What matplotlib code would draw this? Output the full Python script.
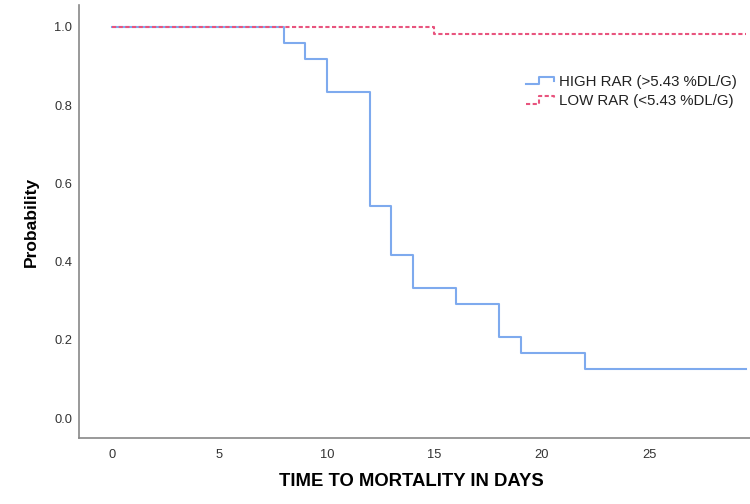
import matplotlib
matplotlib.use("Agg")
import matplotlib.pyplot as plt
from matplotlib.lines import Line2D
from matplotlib.legend_handler import HandlerBase

plt.rcParams['font.family'] = ['Liberation Sans', 'DejaVu Sans']

# Kaplan-Meier step data (event times in days, survival probability after event)
high_times = [0, 8, 9, 10, 12, 13, 14, 16, 18, 19, 22, 29.5]
high_surv = [1.0, 0.958, 0.917, 0.833, 0.542, 0.417, 0.333, 0.292, 0.208, 0.167, 0.125, 0.125]
low_times = [0, 15, 29.5]
low_surv = [1.0, 0.982, 0.982]

labels = ["HIGH RAR (>5.43 %DL/G)", "LOW RAR (<5.43 %DL/G)"]
x_ticks = [0, 5, 10, 15, 20, 25]
y_ticks = [0.0, 0.2, 0.4, 0.6, 0.8, 1.0]

blue = '#7eaaee'
pink = '#e8547e'


class StepHandler(HandlerBase):
    # draws a little step shape in the legend, like SPSS does
    def create_artists(self, legend, orig, xd, yd, width, height, fontsize, trans):
        xs = [xd, xd + width * 0.45, xd + width * 0.45, xd + width, xd + width]
        ys = [yd + height * 0.15, yd + height * 0.15, yd + height * 0.85,
              yd + height * 0.85, yd + height * 0.45]
        ln = Line2D(xs, ys, color=orig.get_color(), linestyle=orig.get_linestyle(),
                    linewidth=orig.get_linewidth(), transform=trans)
        if orig.get_linestyle() != '-':
            ln.set_dashes((2, 1.2))
        return [ln]


fig = plt.figure(figsize=(7.5, 5.04), dpi=100)
ax = fig.add_axes([0.1053, 0.131, 0.8947, 0.859])

l1, = ax.step(high_times, high_surv, where='post', color=blue, linewidth=1.5)
l2, = ax.step(low_times, low_surv, where='post', color=pink, linewidth=1.5,
              linestyle=(0, (2, 1.2)))

ax.set_xlim(-1.53, 29.67)
ax.set_ylim(-0.051, 1.056)
ax.set_xticks(x_ticks)
ax.set_yticks(y_ticks)
ax.set_yticklabels([f"{v:.1f}" for v in y_ticks])
ax.tick_params(length=0, labelsize=9.3, colors='#333333')
ax.tick_params(axis='y', pad=5)
ax.tick_params(axis='x', pad=8)

for s in ['top', 'right']:
    ax.spines[s].set_visible(False)
for s in ['left', 'bottom']:
    ax.spines[s].set_color('#888888')
    ax.spines[s].set_linewidth(1.2)

ax.set_ylabel("Probability", fontsize=12.5, fontweight='bold')
ax.set_xlabel("TIME TO MORTALITY IN DAYS", fontsize=13.3, fontweight='bold')
ax.yaxis.set_label_coords(-0.06, 0.5)
ax.xaxis.set_label_coords(0.496, -0.082)

ax.legend([l1, l2], labels, handler_map={Line2D: StepHandler()},
          loc='upper left', bbox_to_anchor=(0.655, 0.856), frameon=False,
          fontsize=10.8, handlelength=1.9, handletextpad=0.3, labelspacing=0.35,
          borderpad=0, labelcolor='#222222')

fig.savefig("out.png", dpi=100)
